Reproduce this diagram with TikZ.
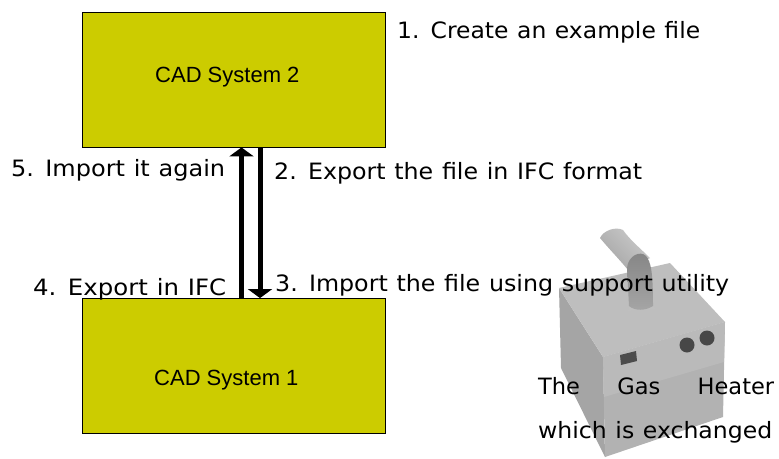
\documentclass[tikz,border=0pt]{standalone}
\usepackage{graphicx}
\usepackage{fontspec}
\setmainfont{DejaVu Sans}
\newfontfamily\widefont[WordSpace=1.15]{DejaVu Sans}
\newfontfamily\boxfont{Liberation Sans}
\usetikzlibrary{arrows.meta}
\definecolor{cadfill}{RGB}{204,204,0}
\definecolor{htop}{RGB}{190,190,190}
\definecolor{hfront}{RGB}{178,178,178}
\definecolor{hleft}{RGB}{165,165,165}
\definecolor{hpanel}{RGB}{186,186,186}
\newcommand{\fitw}[2]{\resizebox{#1pt}{\height}{#2}}
\tikzset{
 cadbox/.style={draw=black,line width=0.8pt,fill=cadfill,minimum width=303pt,minimum height=135pt,inner sep=0pt},
 boxtext/.style={anchor=base west,inner sep=0pt,font=\boxfont\fontsize{22}{24}\selectfont},
 lab/.style={anchor=base west,inner sep=0pt,font=\widefont\fontsize{22.5}{24}\selectfont},
 flow/.style={line width=5pt,-{Triangle[width=24pt,length=9pt]}}
}
\begin{document}
\begin{tikzpicture}[x=1pt,y=-1pt]
\useasboundingbox (0,0) rectangle (779,458);
% heater
\fill[hleft] (559,288) -- (603,357) -- (605,457) -- (561,368) -- cycle;
\fill[hfront] (603,357) -- (725,322) -- (723,417) -- (605,457) -- cycle;
\fill[htop] (559,288) -- (670,263) -- (725,322) -- (603,357) -- cycle;
\fill[hpanel] (603,357) -- (725,322) -- (724,362) -- (604,397) -- cycle;
\fill[black!25] (630,304) -- (652,304) -- (656,309) -- (628,311) -- cycle;
\shade[left color=black!35,middle color=black!7,right color=black!20,shading angle=135] (600,238) .. controls (603,231) and (615,226) .. (623,230) .. controls (630,240) and (640,248) .. (650,258) -- (628,270) .. controls (620,260) and (610,250) .. (600,238) -- cycle;
\shade[top color=black!48,bottom color=black!35] (627,268) .. controls (628,256) and (640,250) .. (646,256) .. controls (651,262) and (653,272) .. (653,306) .. controls (645,311) and (635,311) .. (629,306) -- cycle;
\fill[black!70] (620,355) -- (636,351) -- (637,361) -- (621,365) -- cycle;
\fill[black!72] (687,345) circle (7.5);
\fill[black!72] (707,338) circle (7.5);
% boxes
\node[cadbox] (cadB) at (233.5,79.5) {};
\node[cadbox] (cadA) at (233.5,366) {};
\node[boxtext] (cadBt) at (155,82) {CAD System 2};
\node[boxtext] (cadAt) at (154,385) {CAD System 1};
% connectors
\draw[flow] ([xshift=8pt]cadA.north) -- ([xshift=8pt]cadB.south);
\draw[flow] ([xshift=26.5pt]cadB.south) -- ([xshift=26.5pt]cadA.north);
% labels
\node[lab] (l1) at (397,38) {\fitw{303}{1. Create an example file}};
\node[lab] (l2) at (274,179) {\fitw{368}{2. Export the file in IFC format}};
\node[lab] (l3) at (275,291) {\fitw{454}{3. Import the file using support utility}};
\node[lab] (l4) at (33,295) {\fitw{193}{4. Export in IFC}};
\node[lab] (l5) at (11,176) {\fitw{214}{5. Import it again}};
\node[lab] (t1) at (538,394) {\makebox[236pt][s]{The\hfill Gas\hfill Heater}};
\node[lab] (t2) at (538,438) {\fitw{234}{which is exchanged}};
\end{tikzpicture}
\end{document}
